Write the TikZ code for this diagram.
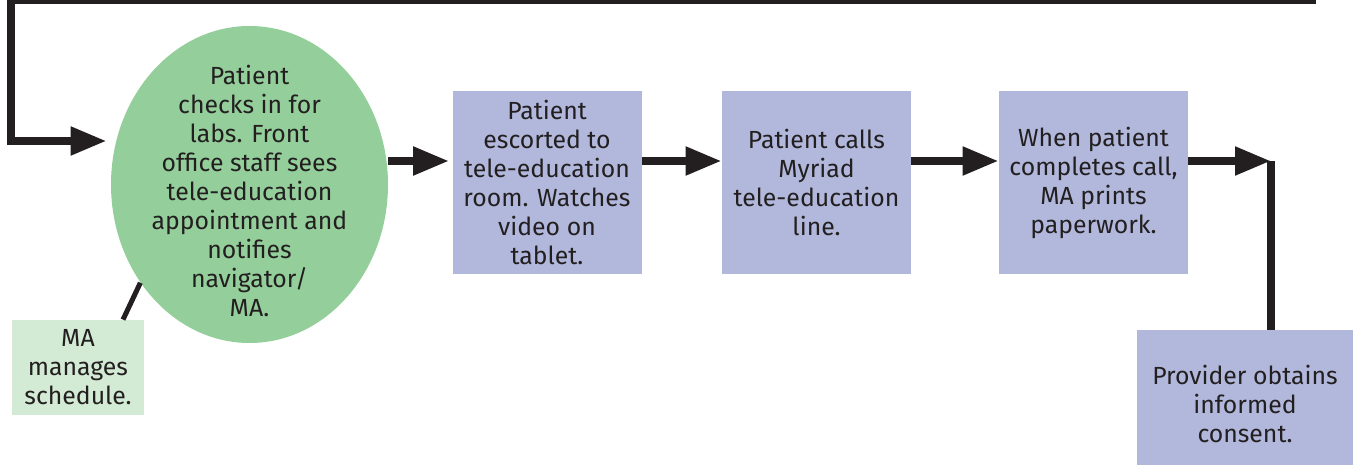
\documentclass[tikz,border=0pt]{standalone}
\usepackage{fontspec}
\setmainfont{Fira Sans}
\usetikzlibrary{arrows.meta,shapes.geometric}
\definecolor{linec}{HTML}{231F20}
\definecolor{boxblue}{HTML}{B1B8DC}
\definecolor{ellgreen}{HTML}{94CF9B}
\definecolor{lightgreen}{HTML}{D3EBD5}
\begin{document}
\begin{tikzpicture}[x=0.5pt,y=-0.5pt,
  txt/.style={align=center,inner sep=0pt,text=linec,font=\fontsize{12.4}{14.5}\selectfont},
  stepbox/.style={txt,fill=boxblue,minimum width=94.5pt,minimum height=91.5pt},
  flow/.style={line width=4pt,draw=linec,line join=miter,-{Triangle[length=18pt,width=13.5pt]}},
  plain/.style={line width=4pt,draw=linec,line join=miter}]
\useasboundingbox (0,0) rectangle (1356,465);
\node[ellipse,fill=ellgreen,inner sep=0pt,minimum width=138.5pt,minimum height=158.5pt] (ell) at (249.5,184.5) {};
\node[txt] (ellt) at (249.5,191)
  {Patient\\checks in for\\labs. Front\\office staff sees\\tele-education\\appointment and\\notifies\\navigator/\\MA.};
\node[stepbox] (b1) at (547,182.5) {Patient\\escorted to\\tele-education\\room. Watches\\video on\\tablet.};
\node[stepbox] (b2) at (816.5,182.5) {Patient calls\\Myriad\\tele-education\\line.};
\node[stepbox] (b3) at (1093.5,182.5) {When patient\\completes call,\\MA prints\\paperwork.};
\node[txt,fill=boxblue,minimum width=108pt,minimum height=74pt] (b4) at (1245,404) {Provider obtains\\informed\\consent.};
\node[txt,fill=lightgreen,minimum width=66pt,minimum height=47.5pt] (ma) at (78,367.5) {MA\\manages\\schedule.};
\coordinate (loopstart) at (1316,0);
\coordinate (c1) at (11,0);
\coordinate (c2) at (11,141);
\coordinate (c3) at (1271,161);
\coordinate (a1) at ([yshift=10.75pt]b1.west);
\draw[flow,shorten >=2pt] (loopstart) -- (c1) -- (c2) -- (c2 -| ell.west);
\draw[flow,shorten >=1.5pt] (a1 -| ell.east) -- (a1);
\draw[flow] ([yshift=10.75pt]b1.east) -- ([yshift=10.75pt]b2.west);
\draw[flow] ([yshift=10.75pt]b2.east) -- ([yshift=10.75pt]b3.west);
\draw[flow] ([yshift=10.75pt]b3.east) -- (c3);
\draw[plain] (c3) -- (c3 |- b4.north);
\draw[line width=2.5pt,draw=linec] ([xshift=22.5pt]ma.north) -- (ell.222);
\end{tikzpicture}
\end{document}
